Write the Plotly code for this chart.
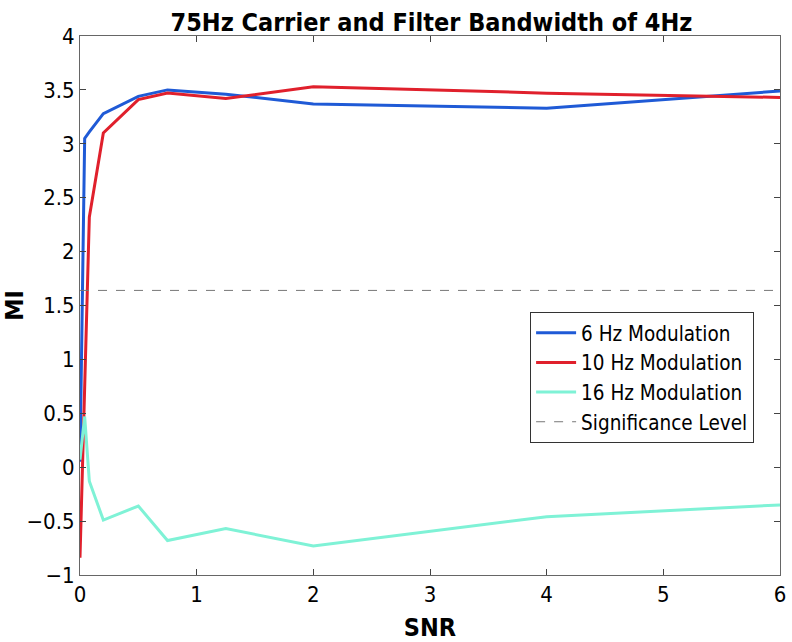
import plotly.graph_objects as go

snr = [0, 0.04, 0.08, 0.2, 0.5, 0.75, 1.25, 2, 4, 6]
mi_6hz = [0.05, 3.05, 3.11, 3.28, 3.44, 3.50, 3.46, 3.37, 3.33, 3.49]
mi_10hz = [-0.84, 0.70, 2.32, 3.10, 3.41, 3.47, 3.42, 3.53, 3.47, 3.43]
mi_16hz = [0.07, 0.47, -0.13, -0.49, -0.36, -0.68, -0.57, -0.73, -0.46, -0.35]
significance = 1.64
x_range = [0, 6]

yticks = [-1, -0.5, 0, 0.5, 1, 1.5, 2, 2.5, 3, 3.5, 4]
ytick_text = ["\u22121", "\u22120.5", "0", "0.5", "1", "1.5", "2", "2.5", "3", "3.5", "4"]
xticks = [0, 1, 2, 3, 4, 5, 6]

FONT = "DejaVu Sans Condensed, DejaVu Sans, sans-serif"

fig = go.Figure()
fig.add_trace(go.Scatter(x=snr, y=mi_6hz, mode="lines", name="6 Hz Modulation",
                         line=dict(color="#1f5ad6", width=3)))
fig.add_trace(go.Scatter(x=snr, y=mi_10hz, mode="lines", name="10 Hz Modulation",
                         line=dict(color="#e0202c", width=3)))
fig.add_trace(go.Scatter(x=snr, y=mi_16hz, mode="lines", name="16 Hz Modulation",
                         line=dict(color="#7ff2d6", width=3)))
fig.add_trace(go.Scatter(x=x_range, y=[significance, significance], mode="lines",
                         name="Significance Level",
                         line=dict(color="#777777", width=1, dash="dash")))

fig.update_layout(
    width=792, height=642,
    paper_bgcolor="white", plot_bgcolor="white",
    margin=dict(l=80, r=12, t=36, b=67),
    font=dict(family=FONT, size=22, color="black"),
    title=dict(text="<b>75Hz Carrier and Filter Bandwidth of 4Hz</b>",
               x=0.5448, xanchor="center", y=0.966, yanchor="middle",
               font=dict(family=FONT, size=25)),
    showlegend=True,
    legend=dict(x=0.643, y=0.488, xanchor="left", yanchor="top",
                bgcolor="white", bordercolor="#333333", borderwidth=1,
                font=dict(family=FONT, size=20.5), tracegroupgap=0,
                itemwidth=40),
    xaxis=dict(range=x_range, tickvals=xticks, ticks="inside", ticklen=6,
               tickcolor="#444", showline=True, linecolor="#666", linewidth=1,
               mirror="ticks", showgrid=False, zeroline=False, automargin=False,
               ticklabeloverflow="allow",
               title=dict(text="<b>SNR</b>", font=dict(family=FONT, size=25), standoff=16)),
    yaxis=dict(range=[-1, 4], tickvals=yticks, ticktext=ytick_text, ticks="inside",
               ticklen=6, tickcolor="#444", showline=True, linecolor="#666", linewidth=1,
               mirror="ticks", showgrid=False, zeroline=False, automargin=False,
               ticklabeloverflow="allow",
               title=dict(text="<b>MI</b>", font=dict(family=FONT, size=25), standoff=16)),
)

fig.write_html("out.html",
               config={"displayModeBar": False},
               post_script="document.body.style.margin='0';document.body.style.overflow='hidden';")
